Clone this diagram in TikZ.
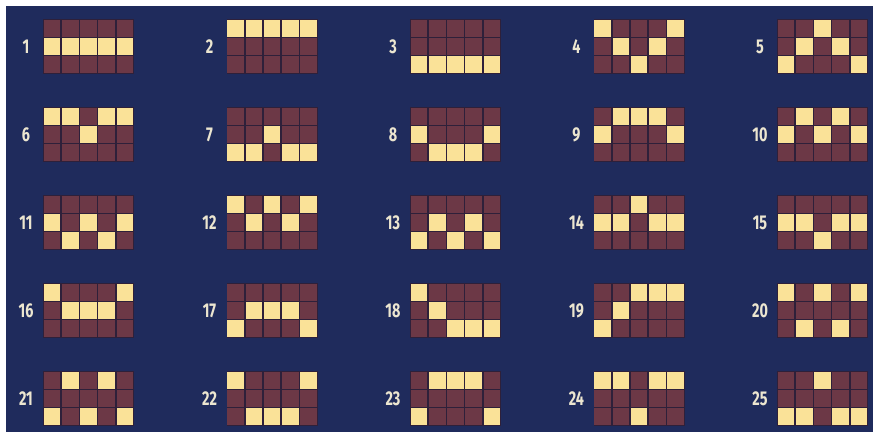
\documentclass[tikz,border=0pt]{standalone}
\usepackage{fontspec}
\setsansfont{Fira Sans}
\definecolor{navy}{RGB}{31,43,92}
\definecolor{cellbrown}{RGB}{108,56,70}
\definecolor{cellyellow}{RGB}{250,226,152}
\definecolor{gapdark}{RGB}{46,32,58}
\definecolor{labelcol}{RGB}{236,230,208}
\begin{document}
\begin{tikzpicture}[x=1pt,y=-1pt,
  cellbox/.style={draw=none,minimum width=16.6pt,minimum height=16.8pt,inner sep=0pt,outer sep=0pt},
  offcell/.style={cellbox,fill=cellbrown},
  oncell/.style={cellbox,fill=cellyellow},
  numlabel/.style={text=labelcol,font=\sffamily\bfseries\fontsize{20}{20}\selectfont,inner sep=0pt,anchor=center}]
\useasboundingbox (0,0) rectangle (873,432);
\fill[white] (0,0) rectangle (873,432);
\fill[navy] (6,6) rectangle (873,432);
\foreach \nn/\pa/\pb/\pc/\pd/\pe [count=\ii from 0] in {
  1/1/1/1/1/1, 2/0/0/0/0/0, 3/2/2/2/2/2, 4/0/1/2/1/0, 5/2/1/0/1/2,
  6/0/0/1/0/0, 7/2/2/1/2/2, 8/1/2/2/2/1, 9/1/0/0/0/1, 10/1/0/1/0/1,
  11/1/2/1/2/1, 12/0/1/0/1/0, 13/2/1/2/1/2, 14/1/1/0/1/1, 15/1/1/2/1/1,
  16/0/1/1/1/0, 17/2/1/1/1/2, 18/0/1/2/2/2, 19/2/1/0/0/0, 20/0/2/0/2/0,
  21/2/0/2/0/2, 22/0/2/2/2/0, 23/2/0/0/0/2, 24/0/0/2/0/0, 25/2/2/0/2/2}{
  \pgfmathtruncatemacro{\gc}{mod(\ii,5)}
  \pgfmathtruncatemacro{\gr}{int(\ii/5)}
  \pgfmathsetmacro{\gx}{43+183.5*\gc}
  \pgfmathsetmacro{\gy}{19+88*\gr}
  \fill[gapdark] (\gx,\gy) rectangle ++(91,55);
  \node[numlabel] (lab\nn) at (\gx-17,\gy+28) {\scalebox{0.72}[1]{\nn}};
  \foreach \kk/\pp in {0/\pa,1/\pb,2/\pc,3/\pd,4/\pe}{
    \foreach \rr in {0,1,2}{
      \ifnum\rr=\pp
        \node[oncell] (c\nn-\kk-\rr) at (\gx+9.1+18.2*\kk,\gy+9.17+18.33*\rr) {};
      \else
        \node[offcell] (c\nn-\kk-\rr) at (\gx+9.1+18.2*\kk,\gy+9.17+18.33*\rr) {};
      \fi
    }
  }
}
\end{tikzpicture}
\end{document}
